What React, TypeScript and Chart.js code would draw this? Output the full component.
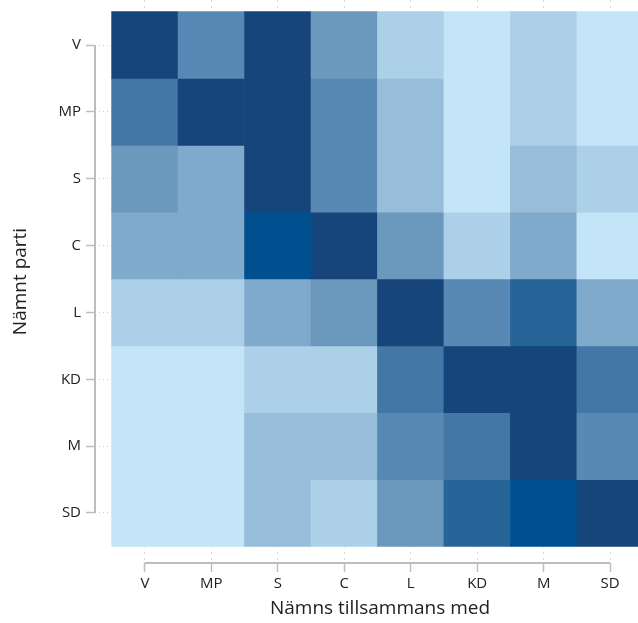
import { useEffect, useRef } from "react";
import { Chart, registerables } from "chart.js";

Chart.register(...registerables);

// Parties (both axes)
const parties = ["V", "MP", "S", "C", "L", "KD", "M", "SD"];

// Colour steps, light (1) to dark (10)
const palette = [
  "#C4E5F7",
  "#ABD0E8",
  "#97BDDA",
  "#80AACC",
  "#6B99BE",
  "#5889B5",
  "#4377A6",
  "#276599",
  "#005090",
  "#15457A",
];

// Intensity level per "Nämnt parti" row, for each "Nämns tillsammans med" column
const rowV = [10, 6, 10, 5, 2, 1, 2, 1];
const rowMP = [7, 10, 10, 6, 3, 1, 2, 1];
const rowS = [5, 4, 10, 6, 3, 1, 3, 2];
const rowC = [4, 4, 9, 10, 5, 2, 4, 1];
const rowL = [2, 2, 4, 5, 10, 6, 8, 4];
const rowKD = [1, 1, 2, 2, 7, 10, 10, 7];
const rowM = [1, 1, 3, 3, 6, 7, 10, 6];
const rowSD = [1, 1, 3, 2, 5, 8, 9, 10];
const rows = [rowV, rowMP, rowS, rowC, rowL, rowKD, rowM, rowSD];

const xTitle = "Nämns tillsammans med";
const yTitle = "Nämnt parti";

const FONT = "'Open Sans', 'Noto Sans', sans-serif";
const AXIS_GREY = "#BDBDBD";

const axisLines = {
  id: "axisLines",
  afterDraw(chart: any) {
    const { ctx, chartArea, scales } = chart;
    const x = scales.x;
    const y = scales.y;
    ctx.save();
    ctx.strokeStyle = AXIS_GREY;
    ctx.lineWidth = 2;
    ctx.beginPath();
    ctx.moveTo(chartArea.left, y.getPixelForValue(0));
    ctx.lineTo(chartArea.left, y.getPixelForValue(parties.length - 1));
    ctx.moveTo(x.getPixelForValue(0), chartArea.bottom);
    ctx.lineTo(x.getPixelForValue(parties.length - 1), chartArea.bottom);
    ctx.stroke();
    ctx.restore();
  },
};

export default function App() {
  const ref = useRef<HTMLCanvasElement | null>(null);

  useEffect(() => {
    if (!ref.current) return;
    const datasets = rows.map((row, r) => ({
      label: parties[r],
      data: row.map((_, c) => ({ x: c, y: [r - 0.5, r + 0.5] })),
      backgroundColor: row.map((lvl) => palette[lvl - 1]),
      borderWidth: 0,
      borderSkipped: false,
      barPercentage: 1,
      categoryPercentage: 1,
      grouped: false,
    }));

    const chart = new Chart(ref.current, {
      type: "bar",
      data: { datasets: datasets as any },
      plugins: [axisLines],
      options: {
        animation: false,
        responsive: true,
        maintainAspectRatio: false,
        layout: { padding: 0 },
        plugins: {
          legend: { display: false },
          tooltip: { enabled: false },
        },
        scales: {
          x: {
            type: "linear",
            offset: false,
            min: -0.75,
            max: 7.826,
            afterBuildTicks: (s: any) => {
              s.ticks = parties.map((_, i) => ({ value: i }));
            },
            afterFit: (s: any) => {
              s.height = 60;
              s.paddingLeft = 0;
              s.paddingRight = 0;
            },
            grid: {
              offset: false,
              drawOnChartArea: true,
              color: "#CFCFCF",
              lineWidth: 1,
              tickColor: AXIS_GREY,
              tickLength: 9,
              tickWidth: 1.5,
            },
            border: { display: false, dash: [1.5, 4.5] },
            ticks: {
              autoSkip: false,
              maxRotation: 0,
              padding: 3,
              color: "#222",
              font: { family: FONT, size: 15 },
              callback: (v: any) => parties[v as number],
            },
            title: {
              display: true,
              text: xTitle,
              color: "#222",
              font: { family: FONT, size: 19 },
              padding: { top: 0, bottom: 3 },
            },
          },
          y: {
            type: "linear",
            reverse: true,
            min: -0.6735,
            max: 7.748,
            afterBuildTicks: (s: any) => {
              s.ticks = parties.map((_, i) => ({ value: i }));
            },
            afterFit: (s: any) => {
              s.width = 95;
              s.paddingTop = 0;
              s.paddingBottom = 0;
            },
            grid: {
              drawOnChartArea: true,
              color: "#CFCFCF",
              lineWidth: 1,
              tickColor: AXIS_GREY,
              tickLength: 9,
              tickWidth: 1.5,
            },
            border: { display: false, dash: [1, 3] },
            ticks: {
              autoSkip: false,
              padding: 5,
              color: "#222",
              font: { family: FONT, size: 15 },
              callback: (v: any) => parties[v as number],
            },
            title: {
              display: true,
              text: yTitle,
              color: "#222",
              font: { family: FONT, size: 19 },
              padding: { top: 9, bottom: 0 },
            },
          },
        },
      },
    });
    return () => chart.destroy();
  }, []);

  return (
    <div
      style={{
        position: "fixed",
        left: 0,
        top: 0,
        width: 638,
        height: 623,
        overflow: "hidden",
        background: "#fff",
      }}
    >
      <div style={{ position: "relative", width: 665, height: 623 }}>
        <canvas ref={ref} />
      </div>
    </div>
  );
}
